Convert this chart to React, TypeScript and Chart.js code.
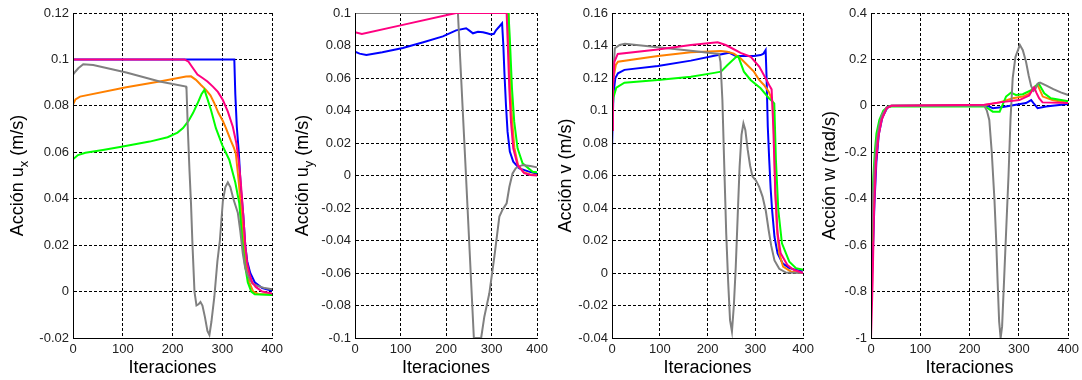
import React, { useEffect, useRef } from "react";
import { Chart, registerables } from "chart.js";

Chart.register(...registerables);

// ---------- Data ----------
const iterTicks = [0, 100, 200, 300, 400];
const uxTicks = [-0.02, 0, 0.02, 0.04, 0.06, 0.08, 0.1, 0.12];
const uyTicks = [-0.1, -0.08, -0.06, -0.04, -0.02, 0, 0.02, 0.04, 0.06, 0.08, 0.1];
const vTicks = [-0.04, -0.02, 0, 0.02, 0.04, 0.06, 0.08, 0.1, 0.12, 0.14, 0.16];
const wTicks = [-1, -0.8, -0.6, -0.4, -0.2, 0, 0.2, 0.4];

const xTitle = "Iteraciones";

// Panel 1: Acción u_x
const uxBlue = [[0,0.1],[324,0.1],[326,0.085],[329,0.071],[333,0.06],[337,0.045],[342,0.033],[346,0.02],[350,0.013],[356,0.008],[365,0.004],[380,0.0015],[400,0.0003]];
const uxPink = [[0,0.1],[224,0.1],[232,0.099],[240,0.0965],[250,0.0935],[261,0.0919],[270,0.0905],[281,0.0883],[291,0.086],[301,0.0825],[311,0.0775],[321,0.071],[328,0.064],[333,0.056],[337,0.047],[342,0.033],[346,0.02],[350,0.012],[354,0.0079],[360,0.004],[367,0.002],[380,0],[400,-0.0008]];
const uxOrange = [[0,0.0805],[5,0.0828],[14,0.084],[107,0.088],[174,0.0905],[227,0.0926],[237,0.0927],[247,0.0912],[257,0.089],[267,0.0869],[276,0.0845],[284,0.0811],[292,0.077],[301,0.0735],[307,0.0705],[317,0.065],[323,0.062],[327,0.0595],[333,0.047],[337,0.037],[342,0.022],[347,0.012],[354,0.004],[362,0],[372,-0.001],[400,-0.0012]];
const uxGreen = [[0,0.057],[10,0.0588],[25,0.0598],[60,0.061],[100,0.0625],[154,0.0646],[190,0.0665],[210,0.0685],[221,0.0704],[232,0.0735],[241,0.0769],[250,0.081],[258,0.085],[264,0.0869],[270,0.083],[277,0.0783],[287,0.0704],[300,0.063],[314,0.0567],[326,0.047],[334,0.038],[340,0.022],[345,0.012],[351,0.004],[358,0],[365,-0.0012],[400,-0.0015]];
const uxGray = [[0,0.0934],[5,0.0948],[10.6,0.0962],[20.6,0.0979],[40.6,0.0976],[107,0.0944],[174,0.0905],[227,0.0883],[228,0.087],[231,0.068],[234,0.052],[237,0.038],[240,0.02],[244,0],[248,-0.006],[252,-0.0055],[256,-0.0045],[260,-0.006],[265,-0.011],[270,-0.017],[274,-0.0187],[278,-0.013],[284,-0.002],[290,0.013],[295,0.022],[301,0.039],[306,0.045],[311,0.047],[316,0.045],[322,0.04],[331,0.034],[336,0.026],[341,0.0165],[346,0.01],[351,0.0071],[360,0.0035],[370,0.0025],[385,0.0015],[400,0.001]];

// Panel 2: Acción u_y
const uyPink = [[0,0.0881],[15,0.0871],[105,0.0927],[222,0.1],[333,0.1],[335,0.0844],[338.8,0.0537],[342.5,0.0331],[347.5,0.0167],[357,0.0065],[371.6,0.0014],[385,0.0003],[400,0]];
const uyBlue = [[0,0.0762],[10,0.075],[25,0.0742],[60,0.0758],[105,0.0785],[150,0.082],[193,0.0856],[222,0.0893],[244,0.0906],[252,0.089],[259,0.0875],[270,0.0885],[281,0.0881],[290,0.0875],[299,0.0868],[305,0.0872],[310,0.0895],[317,0.0917],[323,0.0937],[325.7,0.0803],[328,0.0639],[331.5,0.0434],[335,0.027],[340,0.0147],[347.5,0.0085],[361,0.0044],[382,0.0024],[400,0.001]];
const uyOrange = [[0,0.1],[336,0.1],[337.5,0.085],[341,0.054],[345,0.034],[350,0.017],[358,0.0065],[370,0.002],[385,0.0006],[400,0.0003]];
const uyGreen = [[0,0.1],[337,0.1],[340,0.0844],[344.7,0.0537],[349.7,0.033],[357,0.0167],[368,0.0075],[390,0.0023],[400,0.002]];
const uyGray = [[0,0.1],[226,0.1],[243,0.004],[261,-0.1],[277,-0.1],[284,-0.0869],[295,-0.0725],[306,-0.05],[317,-0.0253],[324,-0.021],[333,-0.0171],[339,-0.0069],[346,0.0013],[353,0.0045],[368,0.0065],[385,0.0058],[400,0.005]];

// Panel 3: Acción v
const vPink = [[0,0.088],[2,0.115],[5,0.13],[12,0.1348],[96,0.1376],[165,0.1403],[221,0.142],[238,0.1403],[253,0.138],[269,0.1355],[290,0.1331],[308,0.127],[321.5,0.1198],[330,0.115],[334,0.113],[337.5,0.09],[341.7,0.049],[346.5,0.0244],[353,0.0121],[367,0.0049],[380,0.002],[400,0]];
const vOrange = [[0,0.105],[3,0.12],[8,0.128],[12.5,0.13],[96,0.1335],[165,0.1358],[228,0.1366],[241,0.1362],[255,0.135],[269,0.1321],[283,0.128],[297,0.1239],[308,0.1188],[318,0.1157],[328,0.1116],[336,0.1055],[339,0.085],[342,0.05],[345,0.028],[350,0.012],[358,0.004],[375,0.0008],[400,0]];
const vBlue = [[0,0.077],[3,0.11],[7,0.12],[12.5,0.1229],[26,0.125],[96,0.1274],[165,0.1307],[245,0.1356],[259,0.1335],[297,0.1335],[311,0.1341],[317,0.135],[321.5,0.1372],[323.5,0.12],[326,0.09],[329,0.0695],[332,0.052],[335,0.0388],[340,0.0223],[346.5,0.0121],[357,0.006],[371,0.003],[399,0.001]];
const vGreen = [[0,0.095],[3,0.108],[9,0.114],[26,0.1171],[96,0.1188],[165,0.1208],[211,0.123],[228,0.1239],[241.7,0.128],[259,0.1327],[264,0.1335],[276,0.1239],[290,0.1188],[311,0.1137],[328.5,0.1075],[339.6,0.1044],[343,0.0695],[348,0.0388],[355.6,0.0183],[371,0.007],[385,0.003],[400,0.002]];
const vGray = [[0,0.1],[3,0.125],[6,0.1383],[16,0.1403],[27,0.141],[96,0.1389],[165,0.1368],[224,0.1348],[227,0.13],[231,0.1065],[235,0.065],[239,0.0244],[243,-0.005],[247,-0.029],[251,-0.036],[255,-0.02],[259,0.004],[263,0.035],[267,0.0654],[271,0.085],[275,0.0921],[279,0.088],[284,0.0757],[289,0.066],[294,0.0593],[301,0.057],[308,0.053],[315,0.047],[322,0.038],[328,0.026],[333,0.017],[340,0.0077],[350,0.0026],[364,0.0003],[400,0]];

// Panel 4: Acción w
const wPink = [[0,-1],[3.4,-0.75],[6,-0.463],[10,-0.247],[15,-0.133],[21.6,-0.06],[31.6,-0.01],[41,0],[230,0.005],[261,0.015],[301,0.025],[321,0.045],[328,0.07],[331,0.08],[336,0.055],[341,0.033],[348,0.015],[400,0.012]];
const wBlue = [[0,-0.84],[4,-0.62],[7,-0.42],[11,-0.24],[16,-0.12],[23,-0.05],[33,-0.008],[42,0],[230,0.003],[240,-0.003],[247,-0.01],[268,-0.005],[294,0.005],[314.5,0.012],[325,0.025],[331,0.008],[338,-0.01],[355,-0.003],[400,0.008]];
const wOrange = [[0,-0.66],[3,-0.5],[6,-0.37],[10,-0.22],[15,-0.12],[22,-0.05],[32,-0.008],[42,0],[230,0.003],[261,0.015],[287.5,0.033],[308,0.04],[320,0.052],[328,0.068],[338,0.09],[348.5,0.04],[368,0.025],[400,0.012]];
const wGreen = [[0,-0.58],[2,-0.45],[4.7,-0.305],[8,-0.19],[11,-0.12],[17,-0.06],[25,-0.02],[35,-0.003],[230,-0.002],[237,-0.01],[247,-0.025],[261,-0.025],[268,0.01],[274,0.04],[284,0.057],[294,0.047],[308,0.05],[325,0.068],[340,0.097],[351.5,0.054],[365,0.033],[400,0.02]];
const wGray = [[0,-0.6],[3,-0.42],[7,-0.27],[11,-0.16],[16,-0.09],[22,-0.04],[32,-0.005],[40,0],[230,0],[235,-0.02],[240,-0.061],[245,-0.2],[250.5,-0.406],[254,-0.58],[257,-0.764],[260,-0.93],[263,-1],[266,-0.95],[270,-0.75],[274,-0.549],[279,-0.3],[283,-0.06],[287.5,0.12],[293,0.21],[302,0.263],[308,0.24],[314.5,0.19],[320,0.13],[325,0.085],[330,0.065],[334,0.075],[338,0.095],[343,0.1],[355,0.088],[370,0.072],[385,0.058],[400,0.047]];

// ---------- Style ----------
const FONT = "'Liberation Sans', Arial, sans-serif";
const C_BLUE = "#0000ff";
const C_PINK = "#ff0080";
const C_ORANGE = "#ff8000";
const C_GREEN = "#00ff00";
const C_GRAY = "#808080";

type Seg = { t: string; sub?: boolean };

interface PanelCfg {
  canvasLeft: number;
  yW: number;
  plotW: number;
  titleX: number; // baseline x (absolute)
  yMin: number;
  yMax: number;
  yTicks: number[];
  yTitle: Seg[];
  series: { data: number[][]; color: string }[];
}

const PAD_R = 14;

const panels: PanelCfg[] = [
  {
    canvasLeft: 0, yW: 73, plotW: 200, titleX: 23,
    yMin: -0.02, yMax: 0.12, yTicks: uxTicks,
    yTitle: [{ t: "Acción u" }, { t: "x", sub: true }, { t: " (m/s)" }],
    series: [
      { data: uxPink, color: C_PINK },
      { data: uxGray, color: C_GRAY },
      { data: uxGreen, color: C_GREEN },
      { data: uxOrange, color: C_ORANGE },
      { data: uxBlue, color: C_BLUE },
    ],
  },
  {
    canvasLeft: 285, yW: 70, plotW: 183, titleX: 308,
    yMin: -0.1, yMax: 0.1, yTicks: uyTicks,
    yTitle: [{ t: "Acción u" }, { t: "y", sub: true }, { t: " (m/s)" }],
    series: [
      { data: uyPink, color: C_PINK },
      { data: uyGray, color: C_GRAY },
      { data: uyGreen, color: C_GREEN },
      { data: uyOrange, color: C_ORANGE },
      { data: uyBlue, color: C_BLUE },
    ],
  },
  {
    canvasLeft: 550, yW: 62, plotW: 192, titleX: 571,
    yMin: -0.04, yMax: 0.16, yTicks: vTicks,
    yTitle: [{ t: "Acción v (m/s)" }],
    series: [
      { data: vPink, color: C_PINK },
      { data: vGray, color: C_GRAY },
      { data: vGreen, color: C_GREEN },
      { data: vOrange, color: C_ORANGE },
      { data: vBlue, color: C_BLUE },
    ],
  },
  {
    canvasLeft: 812, yW: 59, plotW: 198, titleX: 835,
    yMin: -1, yMax: 0.4, yTicks: wTicks,
    yTitle: [{ t: "Acción w (rad/s)" }],
    series: [
      { data: wPink, color: C_PINK },
      { data: wGray, color: C_GRAY },
      { data: wGreen, color: C_GREEN },
      { data: wOrange, color: C_ORANGE },
      { data: wBlue, color: C_BLUE },
    ],
  },
];

function fmt(v: number): string {
  const r = parseFloat(v.toFixed(4));
  if (Math.abs(r) < 1e-9) return "0";
  return String(r);
}

function Panel({ cfg }: { cfg: PanelCfg }) {
  const ref = useRef<HTMLCanvasElement>(null);
  const width = cfg.yW + cfg.plotW + PAD_R;

  useEffect(() => {
    const titlePlugin = {
      id: "axisTitles",
      afterDraw(chart: any) {
        const { ctx, chartArea } = chart;
        ctx.save();
        ctx.fillStyle = "#000";
        ctx.textBaseline = "alphabetic";
        // x title
        ctx.font = `18px ${FONT}`;
        ctx.textAlign = "center";
        ctx.fillText(xTitle, (chartArea.left + chartArea.right) / 2, 373);
        // y title, rotated
        ctx.translate(cfg.titleX - cfg.canvasLeft, (chartArea.top + chartArea.bottom) / 2);
        ctx.rotate(-Math.PI / 2);
        ctx.textAlign = "left";
        const widths = cfg.yTitle.map((s) => {
          ctx.font = s.sub ? `13px ${FONT}` : `18px ${FONT}`;
          return ctx.measureText(s.t).width;
        });
        const total = widths.reduce((a, b) => a + b, 0);
        let x = -total / 2;
        cfg.yTitle.forEach((s, i) => {
          ctx.font = s.sub ? `13px ${FONT}` : `18px ${FONT}`;
          ctx.fillText(s.t, x, s.sub ? 5 : 0);
          x += widths[i];
        });
        ctx.restore();
      },
    };

    const chart = new Chart(ref.current as HTMLCanvasElement, {
      type: "line",
      data: {
        datasets: cfg.series.map((s) => ({
          data: s.data.map(([x, y]) => ({ x, y })),
          borderColor: s.color,
          backgroundColor: s.color,
          borderWidth: 2,
          pointRadius: 0,
          tension: 0,
          fill: false,
        })),
      },
      options: {
        animation: false,
        responsive: false,
        devicePixelRatio: 1,
        layout: { padding: { top: 13, right: PAD_R, bottom: 0, left: 0 } },
        plugins: {
          legend: { display: false },
          tooltip: { enabled: false },
        },
        scales: {
          x: {
            type: "linear",
            min: 0,
            max: 400,
            afterBuildTicks: (scale: any) => {
              scale.ticks = iterTicks.map((v) => ({ value: v }));
            },
            afterFit: (scale: any) => {
              scale.height = 42;
            },
            ticks: {
              autoSkip: false,
              maxRotation: 0,
              padding: 4,
              color: "#222",
              font: { family: FONT, size: 13 },
              callback: (v: any) => fmt(Number(v)),
            },
            grid: {
              color: "#000",
              lineWidth: 1,
              drawTicks: false,
            },
            border: { display: true, color: "#000", width: 1, dash: [3, 2] },
          },
          y: {
            type: "linear",
            min: cfg.yMin,
            max: cfg.yMax,
            afterBuildTicks: (scale: any) => {
              scale.ticks = cfg.yTicks.map((v) => ({ value: v }));
            },
            afterFit: (scale: any) => {
              scale.width = cfg.yW;
            },
            ticks: {
              autoSkip: false,
              padding: 4,
              color: "#222",
              font: { family: FONT, size: 13 },
              callback: (v: any) => fmt(Number(v)),
            },
            grid: {
              color: "#000",
              lineWidth: 1,
              drawTicks: false,
            },
            border: { display: true, color: "#000", width: 1, dash: [3, 2] },
          },
        },
      },
      plugins: [
        titlePlugin,
        {
          id: "solidAxes",
          afterDraw(chart: any) {
            const { ctx, chartArea } = chart;
            ctx.save();
            ctx.strokeStyle = "#000";
            ctx.lineWidth = 1;
            ctx.setLineDash([]);
            ctx.beginPath();
            ctx.moveTo(Math.round(chartArea.left) + 0.5, chartArea.top);
            ctx.lineTo(Math.round(chartArea.left) + 0.5, Math.round(chartArea.bottom) + 0.5);
            ctx.lineTo(chartArea.right, Math.round(chartArea.bottom) + 0.5);
            ctx.stroke();
            ctx.restore();
          },
        },
      ],
    } as any);
    return () => chart.destroy();
  }, []);

  return (
    <canvas
      ref={ref}
      width={width}
      height={380}
      style={{ position: "absolute", left: cfg.canvasLeft, top: 0, width, height: 380 }}
    />
  );
}

export default function App() {
  return (
    <div
      style={{
        position: "absolute",
        left: 0,
        top: 0,
        width: 1082,
        height: 380,
        background: "#fff",
        overflow: "hidden",
      }}
    >
      {panels.map((p, i) => (
        <Panel key={i} cfg={p} />
      ))}
    </div>
  );
}
